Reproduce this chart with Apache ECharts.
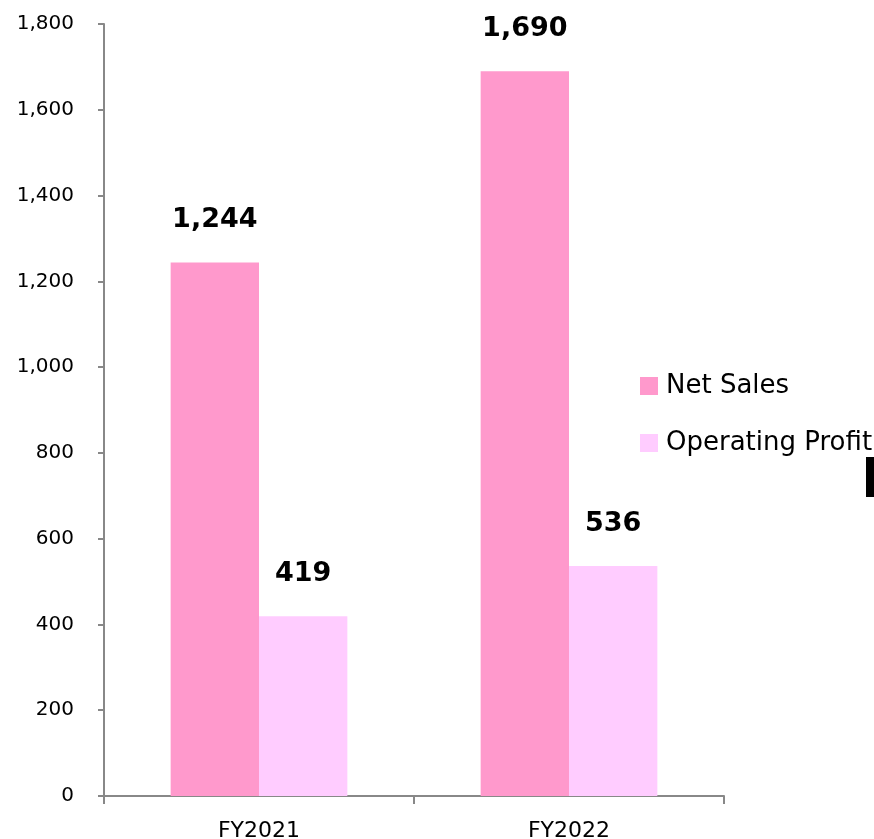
<!DOCTYPE html>
<html>
<head>
<meta charset="utf-8">
<script src="https://cdn.jsdelivr.net/npm/echarts@6/dist/echarts.min.js"></script>
<style>
  html, body { margin: 0; padding: 0; background: #fff; }
  #chart { width: 874px; height: 839px; }
</style>
</head>
<body>
<div id="chart"></div>
<script>
// data
const years = ['FY2021', 'FY2022'];
const netSales = [1244, 1690];
const operatingProfit = [419, 536];
const yTicks = [0, 200, 400, 600, 800, 1000, 1200, 1400, 1600, 1800];

const font = 'DejaVu Sans, Verdana, sans-serif';

const valueLabel = {
    show: true,
    position: 'top',
    distance: 29,
    fontSize: 27,
    fontWeight: 'bold',
    fontFamily: font,
    color: '#000',
    formatter: p => p.value.toLocaleString('en-US')
};

const chart = echarts.init(document.getElementById('chart'));
chart.setOption({
    animation: false,
    textStyle: { fontFamily: font },
    grid: { left: 104, right: 150, top: 24, bottom: 43, outerBoundsMode: 'none', containLabel: false },
    legend: {
        orient: 'vertical',
        left: 635,
        top: 368,
        itemWidth: 18,
        itemHeight: 18,
        itemGap: 31,
        icon: 'rect',
        textStyle: { fontSize: 26, color: '#000', fontFamily: font, padding: [0, 0, 0, 3] },
        data: ['Net Sales', 'Operating Profit']
    },
    xAxis: {
        type: 'category',
        data: years,
        axisLine: { lineStyle: { color: '#888', width: 2 } },
        axisTick: { show: true, length: 8, lineStyle: { color: '#888', width: 2 } },
        axisLabel: { fontSize: 22, color: '#000', margin: 24, fontFamily: font }
    },
    yAxis: {
        type: 'value',
        min: yTicks[0],
        max: yTicks[yTicks.length - 1],
        interval: 200,
        splitLine: { show: false },
        axisLine: { show: true, lineStyle: { color: '#888', width: 2 } },
        axisTick: { show: true, length: 6, lineStyle: { color: '#888', width: 2 } },
        axisLabel: {
            fontSize: 20, color: '#000', margin: 30, fontFamily: font,
            formatter: v => v.toLocaleString('en-US')
        }
    },
    series: [
        {
            name: 'Net Sales',
            type: 'bar',
            data: netSales,
            barGap: '0%',
            barCategoryGap: '43%',
            itemStyle: { color: '#FF99CC' },
            label: valueLabel
        },
        {
            name: 'Operating Profit',
            type: 'bar',
            data: operatingProfit,
            itemStyle: { color: '#FFCCFF' },
            label: valueLabel
        }
    ],
    graphic: [
        { type: 'rect', shape: { x: 866, y: 457, width: 8, height: 40 }, style: { fill: '#000' } }
    ]
});
</script>
</body>
</html>
